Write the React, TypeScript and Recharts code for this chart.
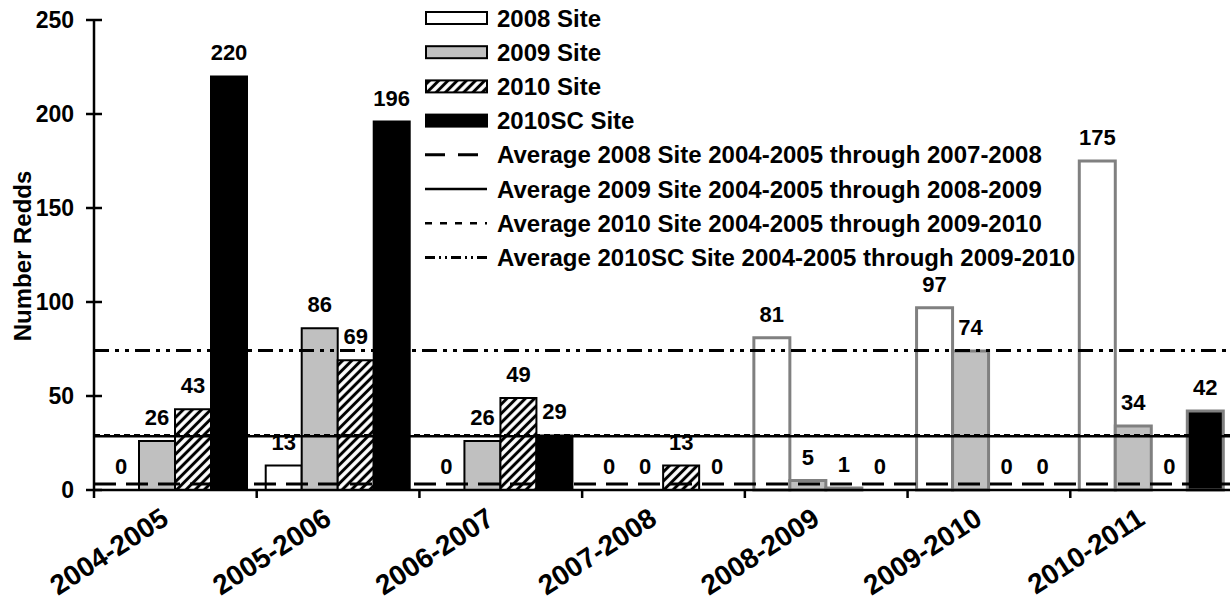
import { BarChart, Bar, XAxis, YAxis, ReferenceLine, LabelList, Cell, Legend } from 'recharts';

const categories = ['2004-2005', '2005-2006', '2006-2007', '2007-2008', '2008-2009', '2009-2010', '2010-2011'];
const site2008 = [0, 13, 0, 0, 81, 97, 175];
const site2009 = [26, 86, 26, 0, 5, 74, 34];
const site2010 = [43, 69, 49, 13, 1, 0, 0];
const site2010SC = [220, 196, 29, 0, 0, 0, 42];
const yTicks = [0, 50, 100, 150, 200, 250];

const mean = (a: number[]) => a.reduce((s, v) => s + v, 0) / a.length;
// averages as named in the legend
const avg2008 = mean(site2008.slice(0, 4));
const avg2009 = mean(site2009.slice(0, 5));
const avg2010 = mean(site2010.slice(0, 6));
const avg2010SC = mean(site2010SC.slice(0, 6));

const data = categories.map((cat, i) => ({
  cat,
  s2008: site2008[i],
  s2009: site2009[i],
  s2010: site2010[i],
  s2010SC: site2010SC[i],
}));

const FONT = 'Arial, "Liberation Sans", sans-serif';
const GRAY = '#c0c0c0';
const EDGE_GRAY = '#808080';
const Y_AXIS_W = 94;
const PLOT_W = 1139;
const CHART_W = 1240;
const BAND = PLOT_W / categories.length;

const bars = [
  { key: 's2008', name: '2008 Site', fill: '#ffffff', values: site2008 },
  { key: 's2009', name: '2009 Site', fill: GRAY, values: site2009 },
  { key: 's2010', name: '2010 Site', fill: 'url(#hatch)', values: site2010 },
  { key: 's2010SC', name: '2010SC Site', fill: '#000000', values: site2010SC },
];

const lines = [
  { name: 'Average 2008 Site 2004-2005 through 2007-2008', value: avg2008, width: 3, dash: '22 10', legendDash: '20 13' },
  { name: 'Average 2009 Site 2004-2005 through 2008-2009', value: avg2009, width: 2.5, dash: undefined, legendDash: undefined },
  { name: 'Average 2010 Site 2004-2005 through 2009-2010', value: avg2010, width: 2.5, dash: '6 4', legendDash: '7 8' },
  { name: 'Average 2010SC Site 2004-2005 through 2009-2010', value: avg2010SC, width: 3, dash: '15 6 4 6 4 6', legendDash: '10 4 2 4 2 4' },
];

const XTick = (props: any) => {
  const { x, y, payload } = props;
  const tx = x - 5;
  const ty = y + 33;
  return (
    <g>
      <line x1={x - BAND / 2} x2={x - BAND / 2} y1={y} y2={y + 8} stroke="#000" strokeWidth={2.5} />
      <text
        x={tx}
        y={ty}
        textAnchor="end"
        transform={`rotate(-33 ${tx} ${ty})`}
        fontFamily={FONT}
        fontWeight="bold"
        fontSize={28}
        fill="#000"
      >
        {payload.value}
      </text>
    </g>
  );
};

const YTick = (props: any) => {
  const { x, y, payload } = props;
  return (
    <g>
      <line x1={x - 8} x2={x + 8} y1={y} y2={y} stroke="#000" strokeWidth={2.5} />
      <text x={x - 20} y={y} dy="0.36em" textAnchor="end" fontFamily={FONT} fontWeight="bold" fontSize={23} fill="#000">
        {payload.value}
      </text>
    </g>
  );
};

const hatchDef = (id: string) => (
  <pattern id={id} width={6.5} height={6.5} patternUnits="userSpaceOnUse" patternTransform="rotate(45)">
    <rect width={6.5} height={6.5} fill="#fff" />
    <line x1={3.25} y1={0} x2={3.25} y2={6.5} stroke="#000" strokeWidth={3} />
  </pattern>
);

const LegendBox = () => {
  const rowY = (i: number) => 18 + i * 34.2;
  return (
    <svg width={1230} height={280} style={{ display: 'block' }}>
      <defs>{hatchDef('hatchLegend')}</defs>
      {bars.map((b, i) => (
        <g key={b.key}>
          <rect
            x={426}
            y={rowY(i) - 6}
            width={61}
            height={12}
            fill={b.key === 's2010' ? 'url(#hatchLegend)' : b.fill}
            stroke="#000"
            strokeWidth={2}
          />
          <text x={497} y={rowY(i)} dy="0.36em" fontFamily={FONT} fontWeight="bold" fontSize={24} fill="#000">
            {b.name}
          </text>
        </g>
      ))}
      {lines.map((l, j) => {
        const y = rowY(j + 4);
        return (
          <g key={l.name}>
            <line x1={425} x2={487} y1={y} y2={y} stroke="#000" strokeWidth={l.width} strokeDasharray={l.legendDash} />
            <text x={497} y={y} dy="0.36em" fontFamily={FONT} fontWeight="bold" fontSize={24} fill="#000">
              {l.name}
            </text>
          </g>
        );
      })}
    </svg>
  );
};

// zero-valued bars get a hairline height so their "0" labels are still drawn
const minSize = (value: any) => (Number(value) === 0 ? 0.01 : 0);

export default function App() {
  return (
    <div style={{ position: 'absolute', left: 0, top: 0, width: 1230, height: 614, overflow: 'hidden', background: '#fff' }}>
      <BarChart
        width={CHART_W}
        height={614}
        data={data}
        margin={{ top: 20, right: CHART_W - Y_AXIS_W - PLOT_W, bottom: 0, left: 0 }}
        barCategoryGap={9}
        barGap={0}
      >
        <defs>{hatchDef('hatch')}</defs>
        <XAxis
          dataKey="cat"
          height={124}
          interval={0}
          tickSize={0}
          tickMargin={0}
          tickLine={false}
          axisLine={{ stroke: '#000', strokeWidth: 2.5 }}
          tick={<XTick />}
        />
        <YAxis
          width={Y_AXIS_W}
          domain={[0, 250]}
          ticks={yTicks}
          interval={0}
          tickSize={0}
          tickMargin={0}
          tickLine={false}
          axisLine={{ stroke: '#000', strokeWidth: 2.5 }}
          tick={<YTick />}
          label={{
            content: () => (
              <text
                x={22}
                y={256}
                transform="rotate(-90 22 256)"
                textAnchor="middle"
                dy="0.36em"
                fontFamily={FONT}
                fontWeight="bold"
                fontSize={24}
                fill="#000"
              >
                Number Redds
              </text>
            ),
          }}
        />
        <Legend
          layout="vertical"
          align="center"
          verticalAlign="middle"
          wrapperStyle={{ left: 0, top: 0, width: 1230, height: 280 }}
          content={() => <LegendBox />}
        />
        {bars.map((b) => (
          <Bar key={b.key} dataKey={b.key} name={b.name} fill={b.fill} minPointSize={minSize} isAnimationActive={false}>
            {categories.map((c, i) => (
              <Cell
                key={c}
                stroke={b.values[i] === 0 ? 'none' : i >= 4 ? EDGE_GRAY : '#000'}
                strokeWidth={i >= 4 ? 3 : 2}
              />
            ))}
            <LabelList
              dataKey={b.key}
              position="top"
              offset={16}
              fontFamily={FONT}
              fontWeight="bold"
              fontSize={22}
              fill="#000"
            />
          </Bar>
        ))}
        {lines.map((l) => (
          <ReferenceLine
            key={l.name}
            y={l.value}
            stroke="#000"
            strokeWidth={l.width}
            strokeDasharray={l.dash}
            ifOverflow="extendDomain"
          />
        ))}
      </BarChart>
    </div>
  );
}
